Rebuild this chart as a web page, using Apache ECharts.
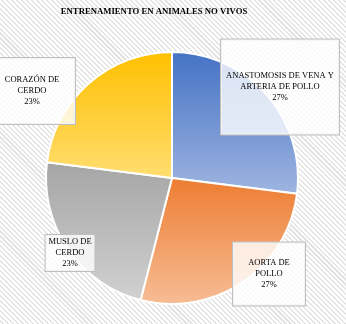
<!DOCTYPE html>
<html><head><meta charset="utf-8">
<script src="https://cdn.jsdelivr.net/npm/echarts@6/dist/echarts.min.js"></script>
<style>
html,body{margin:0;padding:0;}
#c{width:346px;height:324px;background:repeating-linear-gradient(45deg,#ffffff 0px,#ffffff 2px,#e4e4e4 2px,#e4e4e4 3.5px);}
</style></head>
<body><div id="c"></div>
<script>
var title = 'ENTRENAMIENTO EN ANIMALES NO VIVOS';
var categories = ['ANASTOMOSIS DE VENA Y\nARTERIA DE POLLO', 'AORTA DE\nPOLLO', 'MUSLO DE\nCERDO', 'CORAZÓN DE\nCERDO'];
var values = [27, 27, 23, 23];

var gradTop = ['#4472c4', '#ed7d31', '#a5a5a5', '#ffc000'];
var gradBot = ['#9fb5e1', '#f7bd95', '#d1d1d1', '#ffdd70'];
var labelPos = [[280, 87], [269, 274], [70, 253], [32, 91]];
var labelBox = [[118, 95], [72, 63], [49, 36], [86, 66]];

var chart = echarts.init(document.getElementById('c'), null, {renderer:'canvas'});
var data = values.map(function(v, i){
  return {
    name: categories[i], value: v,
    itemStyle: {color: new echarts.graphic.LinearGradient(0,0,0,1,[{offset:0,color:gradTop[i]},{offset:1,color:gradBot[i]}])},
    label: {
      width: labelBox[i][0],
      padding: [(labelBox[i][1]-33)/2, 0]
    }
  };
});
chart.setOption({
  animation:false,
  title:{text:title,left:149,top:2,textAlign:'center',textStyle:{fontFamily:'Liberation Serif',fontWeight:'bold',fontSize:8.7,color:'#000'}},
  series:[{
    type:'pie',
    center:[172,178],
    radius:[0,126],
    startAngle:90,
    clockwise:true,
    itemStyle:{borderColor:'#fff',borderWidth:2},
    label:{
      show:true,
      formatter:'{b}\n{d}%',
      fontFamily:'Liberation Serif',
      fontSize:8.5,
      lineHeight:11,
      color:'#000',
      align:'center',
      backgroundColor:'rgba(255,255,255,0.8)',
      borderColor:'#bfbfbf',
      borderWidth:1
    },
    labelLine:{show:false},
    labelLayout:function(p){
      var pos = labelPos[p.dataIndex];
      return {x:pos[0], y:pos[1], align:'center', verticalAlign:'middle'};
    },
    data:data
  }]
});
</script></body></html>
